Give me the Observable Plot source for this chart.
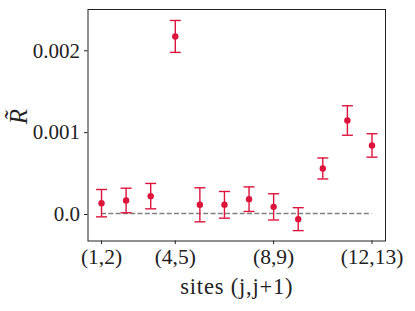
<!DOCTYPE html>
<html><head><meta charset="utf-8">
<script src="https://cdn.jsdelivr.net/npm/d3@7"></script>
<script src="https://cdn.jsdelivr.net/npm/@observablehq/plot@0.6"></script>
<style>html,body{margin:0;padding:0;background:#fff}</style>
</head><body><div id="chart"></div>
<script>
const sites = [1,2,3,4,5,6,7,8,9,10,11,12];
const values = [0.000126,0.000159,0.000212,0.002163,0.000106,0.000106,0.000175,0.000081,-0.000069,0.00055,0.001136,0.000831];
const errors = [0.000167,0.00015,0.000155,0.000195,0.000208,0.000163,0.00015,0.00016,0.00014,0.000128,0.00018,0.000143];
const xTicks = [1,4,8,12];
const xTickLabels = ["(1,2)","(4,5)","(8,9)","(12,13)"];
const yTicks = [0,0.001,0.002];
const yTickLabels = ["0.0","0.001","0.002"];
const xLabel = "sites (j,j+1)";
const yLabel = "R\u0303";

const data = sites.map((s,i)=>({site:s, value:values[i], lo:values[i]-errors[i], hi:values[i]+errors[i]}));
const color = "#dc143c";
const cap = {draw(ctx){ ctx.moveTo(-5.5,0); ctx.lineTo(5.5,0); }};
const font = "'Liberation Serif', 'DejaVu Serif', serif";

const chart = Plot.plot({
  width: 415, height: 311,
  marginLeft: 87.5, marginRight: 30, marginTop: 9, marginBottom: 70.5,
  style: {fontFamily: font, background: "#fff", color: "#222"},
  x: {domain: [0.45, 12.55]},
  y: {domain: [-0.000336, 0.002492]},
  marks: [
    Plot.ruleY([0], {x1: 1, x2: 12, stroke: "#808080", strokeWidth: 1.3, strokeDasharray: "5,2.3"}),
    Plot.ruleX(data, {x: "site", y1: "lo", y2: "hi", stroke: color, strokeWidth: 1.4}),
    Plot.dot(data, {x: "site", y: "hi", symbol: cap, stroke: color, fill: "none", strokeWidth: 1.4}),
    Plot.dot(data, {x: "site", y: "lo", symbol: cap, stroke: color, fill: "none", strokeWidth: 1.4}),
    Plot.dot(data, {x: "site", y: "value", r: 3.2, fill: color, stroke: "none"}),
    Plot.frame({stroke: "#222", strokeWidth: 1}),
    Plot.axisX({ticks: xTicks, tickFormat: d => xTickLabels[xTicks.indexOf(d)], tickSize: 3.5, tickPadding: 4.7, fontSize: 21.5, label: null, stroke: "#222"}),
    Plot.axisY({ticks: yTicks, tickFormat: d => yTickLabels[yTicks.indexOf(d)], tickSize: 3.5, tickPadding: 4.5, fontSize: 21, label: null, dy: 1, stroke: "#222"}),
    Plot.text([xLabel], {frameAnchor: "bottom", lineAnchor: "middle", dy: 46, fontSize: 22.5, fill: "#222"}),
    Plot.text([yLabel], {frameAnchor: "left", dx: -69.5, dy: -1, rotate: -90, fontSize: 25, fontStyle: "italic", fill: "#222"})
  ]
});
chart.querySelectorAll("text").forEach(t => { if (t.textContent === xLabel) t.setAttribute("letter-spacing", "0.8"); });
document.getElementById("chart").appendChild(chart);
</script>
</body></html>
